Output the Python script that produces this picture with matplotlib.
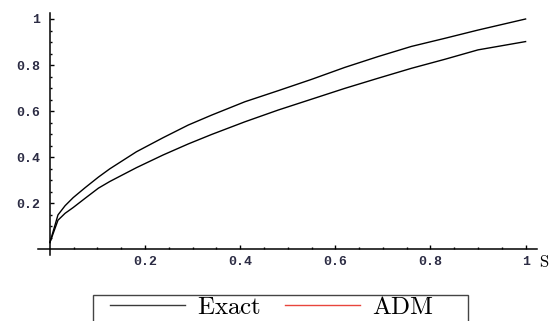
import matplotlib
matplotlib.use('Agg')
import matplotlib.pyplot as plt
from matplotlib.patches import Rectangle
from matplotlib.ticker import FixedLocator

plt.rcParams['mathtext.fontset'] = 'cm'

# values
s = [0.0, 0.017, 0.032, 0.049, 0.074, 0.102, 0.126, 0.182, 0.238, 0.291, 0.34,
     0.41, 0.48, 0.55, 0.62, 0.69, 0.76, 0.83, 0.90, 1.0]
exact = [0.03, 0.150, 0.190, 0.225, 0.268, 0.314, 0.350, 0.424, 0.485, 0.540,
         0.583, 0.641, 0.689, 0.738, 0.790, 0.837, 0.881, 0.916, 0.952, 1.0]
adm = [0.03, 0.127, 0.157, 0.182, 0.222, 0.266, 0.295, 0.355, 0.410, 0.458,
       0.499, 0.554, 0.605, 0.652, 0.699, 0.743, 0.786, 0.825, 0.866, 0.902]

xticks = [0.2, 0.4, 0.6, 0.8, 1.0]
xticklabels = ['0.2', '0.4', '0.6', '0.8', '1']
yticks = [0.2, 0.4, 0.6, 0.8, 1.0]
yticklabels = ['0.2', '0.4', '0.6', '0.8', '1']
minor = [0.05, 0.1, 0.15, 0.25, 0.3, 0.35, 0.45, 0.5, 0.55, 0.65, 0.7, 0.75,
         0.85, 0.9, 0.95]

fig = plt.figure(figsize=(5.5, 3.21), dpi=100)
ax = fig.add_axes([38/550, 1-255/321, (537-38)/550, (255-13)/321])
ax.set_xlim(-0.025, 1.024)
ax.set_ylim(-0.024, 1.026)

ax.plot(s, exact, color='black', lw=1.0, label='$\\mathrm{Exact}$')
ax.plot(s, adm, color='black', lw=1.0, label='$\\mathrm{ADM}$')

for side in ['top', 'right']:
    ax.spines[side].set_visible(False)
ax.spines['left'].set_position(('data', 0))
ax.spines['bottom'].set_position(('data', 0))
for side in ['left', 'bottom']:
    ax.spines[side].set_linewidth(1.1)

ax.set_xticks(xticks, xticklabels)
ax.set_yticks(yticks, yticklabels)
ax.xaxis.set_minor_locator(FixedLocator(minor))
ax.yaxis.set_minor_locator(FixedLocator(minor))
ax.tick_params(which='major', direction='in', length=3.2, width=1.0)
ax.tick_params(which='minor', direction='in', length=1.6, width=1.0)
ax.tick_params(axis='x', pad=5)
ax.tick_params(axis='y', pad=7)
for lab in ax.get_xticklabels() + ax.get_yticklabels():
    lab.set_fontfamily('Liberation Mono')
    lab.set_fontweight('bold')
    lab.set_fontsize(9.5)
    lab.set_color('#2c2c44')

fig.text(539/550, 1-262/321, '$\\mathrm{S}$', fontsize=12, va='center', ha='left')

h, l = ax.get_legend_handles_labels()
leg = fig.legend(h, l, loc='upper left', bbox_to_anchor=(110/550, 1-295/321),
                 ncol=2, frameon=False, borderpad=0, borderaxespad=0,
                 handlelength=3.0, handletextpad=0.48, columnspacing=0.95,
                 prop={'size': 18})
for hd, c in zip(leg.legend_handles, ['#3a3a3a', '#e8453c']):
    hd.set_color(c)
    hd.set_linewidth(1.0)

fig.patches.append(Rectangle((93/550, -0.1), (468-93)/550, (1-295/321)+0.1,
                             transform=fig.transFigure, fill=False,
                             edgecolor='#444444', lw=1.0))

fig.savefig('out.png', dpi=100)
